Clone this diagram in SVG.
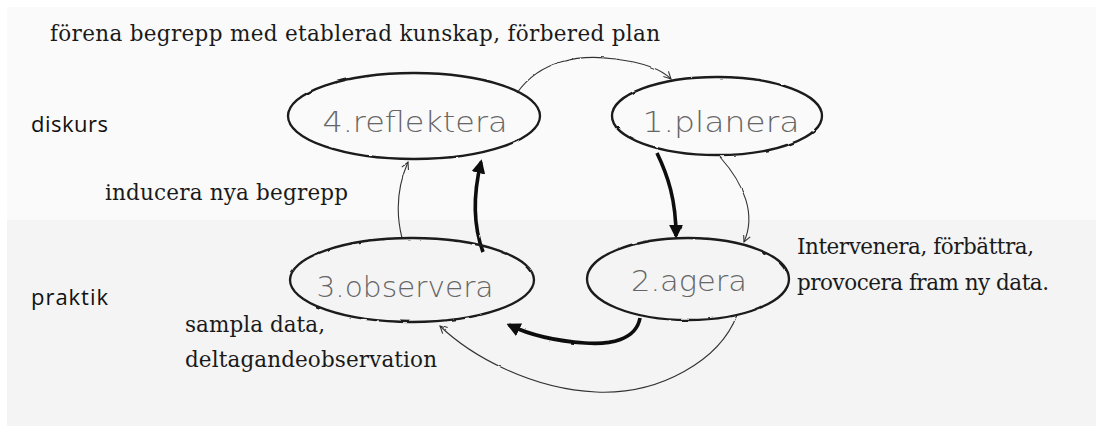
<svg xmlns="http://www.w3.org/2000/svg" width="1096" height="426" viewBox="0 0 1096 426">
<style>
.serif{font-family:"DejaVu Serif","Liberation Serif",serif;font-size:21.5px;fill:#1a1a1a}
.sans{font-family:"Open Sans","Liberation Sans",sans-serif;font-size:22px;fill:#111}
.hand{font-family:"DejaVu Sans","Liberation Sans",sans-serif;font-size:28px;fill:#666;font-weight:300}
.node ellipse{fill:none;stroke:#1a1a1a;stroke-width:2.3}
.thin{fill:none;stroke:#333;stroke-width:1.1}
.thick{fill:none;stroke:#0d0d0d;stroke-width:3.6}
</style>
<defs>
<filter id="rough" x="-5%" y="-5%" width="110%" height="110%">
<feTurbulence type="fractalNoise" baseFrequency="0.08" numOctaves="2" seed="3"/>
<feDisplacementMap in="SourceGraphic" scale="2" xChannelSelector="R" yChannelSelector="G"/>
</filter>
<marker id="arrOpen" viewBox="0 0 10 10" refX="9" refY="5" markerWidth="9" markerHeight="9" markerUnits="userSpaceOnUse" orient="auto">
<path d="M1,1 L9,5 L1,9" fill="none" stroke="#333" stroke-width="1.2"/>
</marker>
<marker id="arrFill" viewBox="0 0 10 10" refX="8" refY="5" markerWidth="14" markerHeight="14" markerUnits="userSpaceOnUse" orient="auto">
<path d="M0,0 L10,5 L0,10 Z" fill="#0d0d0d"/>
</marker>
</defs>
<rect x="7" y="7" width="1089" height="213" fill="#fafafa"/>
<rect x="7" y="220" width="1089" height="206" fill="#f4f4f4"/>
<g id="labels">
<text class="serif" x="50" y="41" textLength="610" lengthAdjust="spacing">förena begrepp med etablerad kunskap, förbered plan</text>
<text class="sans" x="31" y="132" textLength="77" lengthAdjust="spacing">diskurs</text>
<text class="sans" x="31" y="305" textLength="77" lengthAdjust="spacing">praktik</text>
<text class="serif" x="105" y="200" textLength="243" lengthAdjust="spacing">inducera nya begrepp</text>
<text class="serif" x="797" y="254" textLength="237" lengthAdjust="spacing">Intervenera, förbättra,</text>
<text class="serif" x="797" y="290" textLength="252" lengthAdjust="spacing">provocera fram ny data.</text>
<text class="serif" x="185" y="332" textLength="140" lengthAdjust="spacing">sampla data,</text>
<text class="serif" x="185" y="367" textLength="252" lengthAdjust="spacing">deltagandeobservation</text>
</g>
<g id="connectors" filter="url(#rough)">
<path class="thin" d="M517,93 C540,60 580,54 615,59 C640,62 660,68 671,79" marker-end="url(#arrOpen)"/>
<path class="thick" d="M657,153 C668,176 676,200 676,236" marker-end="url(#arrFill)"/>
<path class="thin" d="M720,157 C745,185 756,215 744,242" marker-end="url(#arrOpen)"/>
<path class="thick" d="M640,318 C636,340 610,345 585,343 C555,341 530,335 509,325" marker-end="url(#arrFill)"/>
<path class="thin" d="M737,315 C720,360 660,395 596,392 C530,389 470,355 440,326" marker-end="url(#arrOpen)"/>
<path class="thin" d="M402,238 C395,210 398,185 408,162" marker-end="url(#arrOpen)"/>
<path class="thick" d="M483,252 C473,225 473,195 481,162" marker-end="url(#arrFill)"/>
</g>
<g id="node-reflektera" class="node">
<ellipse cx="414" cy="116" rx="126" ry="43" filter="url(#rough)"/>
<text class="hand" x="415" y="132" text-anchor="middle" textLength="185" lengthAdjust="spacingAndGlyphs">4.reflektera</text>
</g>
<g id="node-planera" class="node">
<ellipse cx="717" cy="116" rx="105" ry="39" filter="url(#rough)"/>
<text class="hand" x="721" y="132" text-anchor="middle" textLength="157" lengthAdjust="spacingAndGlyphs">1.planera</text>
</g>
<g id="node-observera" class="node">
<ellipse cx="412" cy="280" rx="122" ry="42" filter="url(#rough)"/>
<text class="hand" x="405" y="297" text-anchor="middle" textLength="177" lengthAdjust="spacingAndGlyphs">3.observera</text>
</g>
<g id="node-agera" class="node">
<ellipse cx="688" cy="279" rx="101" ry="41" filter="url(#rough)"/>
<text class="hand" x="689" y="291" text-anchor="middle" textLength="116" lengthAdjust="spacingAndGlyphs">2.agera</text>
</g>
</svg>
